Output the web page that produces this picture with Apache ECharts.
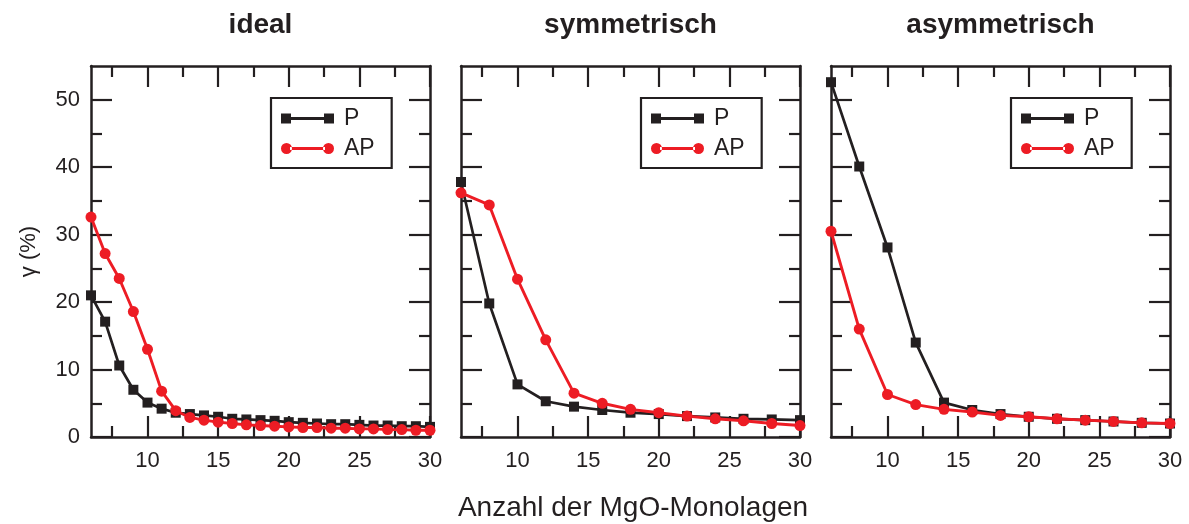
<!DOCTYPE html>
<html>
<head>
<meta charset="utf-8">
<title>γ vs. Anzahl der MgO-Monolagen</title>
<script src="https://cdn.jsdelivr.net/npm/echarts@6/dist/echarts.min.js"></script>
<style>
  html, body { margin: 0; padding: 0; background: #ffffff; }
  #chart { width: 1189px; height: 524px; }
</style>
</head>
<body>
<div id="chart"></div>
<script>
// Number of MgO monolayers
const layersAll = [6, 7, 8, 9, 10, 11, 12, 13, 14, 15, 16, 17, 18, 19, 20, 21, 22, 23, 24, 25, 26, 27, 28, 29, 30];
const layersEven = [6, 8, 10, 12, 14, 16, 18, 20, 22, 24, 26, 28, 30];

// gamma (%) – ideal interface
const idealP  = [21.0, 17.1, 10.6, 7.0, 5.1, 4.2, 3.6, 3.4, 3.2, 3.0, 2.7, 2.6, 2.5, 2.4, 2.2, 2.1, 2.0, 1.9, 1.9, 1.8, 1.7, 1.7, 1.6, 1.6, 1.5];
const idealAP = [32.6, 27.2, 23.5, 18.6, 13.0, 6.8, 3.9, 2.9, 2.5, 2.2, 2.0, 1.8, 1.7, 1.6, 1.5, 1.4, 1.4, 1.3, 1.3, 1.2, 1.2, 1.1, 1.1, 1.0, 1.0];

// gamma (%) – symmetric interfaces
const symP  = [37.8, 19.8, 7.8, 5.3, 4.5, 4.0, 3.6, 3.4, 3.1, 2.9, 2.7, 2.6, 2.5];
const symAP = [36.2, 34.4, 23.4, 14.4, 6.5, 5.0, 4.1, 3.6, 3.1, 2.7, 2.4, 2.0, 1.7];

// gamma (%) – asymmetric interfaces
const asymP  = [52.6, 40.1, 28.1, 14.0, 5.1, 4.0, 3.4, 3.0, 2.7, 2.5, 2.3, 2.1, 2.0];
const asymAP = [30.5, 16.0, 6.3, 4.8, 4.1, 3.7, 3.2, 3.0, 2.7, 2.5, 2.3, 2.1, 2.0];

// Panel titles and axis ticks
const panelTitles = ['ideal', 'symmetrisch', 'asymmetrisch'];
const xMajorTicks = [10, 15, 20, 25, 30];
const xMinorTicks = [7.5, 12.5, 17.5, 22.5, 27.5];
const yMajorTicks = [0, 10, 20, 30, 40, 50];
const yMinorTicks = [5, 15, 25, 35, 45];
const seriesNames = ['P', 'AP'];

const INK = '#231f20';
const RED = '#ed1c24';
const FONT = '"Liberation Sans", Arial, Helvetica, sans-serif';

const panels = [
  { x: layersAll,  p: idealP, ap: idealAP },
  { x: layersEven, p: symP,   ap: symAP },
  { x: layersEven, p: asymP,  ap: asymAP }
];

const gridLeft = [91, 461, 831];
const gridTop = 66, gridW = 339, gridH = 371;

function pairs(xs, ys) { return xs.map((v, i) => [v, ys[i]]); }

function xAxisDef(gi, pos, ticks, len, withLine, withLabel) {
  return {
    type: 'value', gridIndex: gi, position: pos, min: 6, max: 30,
    axisLine: { show: withLine, onZero: false, lineStyle: { color: INK, width: 2.5 } },
    axisTick: { show: true, inside: true, length: len, customValues: ticks, lineStyle: { color: INK, width: 2.2 } },
    axisLabel: { show: withLabel, customValues: xMajorTicks, margin: 13, fontSize: 22, color: INK, fontFamily: FONT },
    splitLine: { show: false }
  };
}

function yAxisDef(gi, pos, ticks, len, withLine, withLabel) {
  return {
    type: 'value', gridIndex: gi, position: pos, min: 0, max: 55,
    axisLine: { show: withLine, onZero: false, lineStyle: { color: INK, width: 2.5 } },
    axisTick: { show: true, inside: true, length: len, customValues: ticks, lineStyle: { color: INK, width: 2.2 } },
    axisLabel: { show: withLabel, customValues: yMajorTicks, margin: 11, fontSize: 22, color: INK, fontFamily: FONT },
    splitLine: { show: false }
  };
}

const grids = [], xAxes = [], yAxes = [], series = [], legends = [], texts = [];

// Legend glyphs: marker – line – marker
const iconP  = 'path://M0,0.5h10v10h-10z M9,4.1h35v2.8h-35z M43,0.5h10v10h-10z';
const iconAP = 'path://M0,5.5a5.5,5.5 0 1,0 11,0a5.5,5.5 0 1,0 -11,0z M9,4.1h35v2.8h-35z M42,5.5a5.5,5.5 0 1,0 11,0a5.5,5.5 0 1,0 -11,0z';

panels.forEach((pd, gi) => {
  grids.push({ left: gridLeft[gi], top: gridTop, width: gridW, height: gridH, containLabel: false });

  const xb = xAxes.length;
  xAxes.push(xAxisDef(gi, 'bottom', xMajorTicks, 21, true, true));
  xAxes.push(xAxisDef(gi, 'bottom', xMinorTicks, 11, false, false));
  xAxes.push(xAxisDef(gi, 'top', xMajorTicks, 21, true, false));
  xAxes.push(xAxisDef(gi, 'top', xMinorTicks, 11, false, false));

  const yb = yAxes.length;
  const left = yAxisDef(gi, 'left', yMajorTicks, 21, true, gi === 0);
  if (gi === 0) {
    left.name = 'γ (%)';
    left.nameLocation = 'middle';
    left.nameGap = 51;
    left.nameTextStyle = { fontSize: 22, color: INK, fontFamily: FONT };
  }
  yAxes.push(left);
  yAxes.push(yAxisDef(gi, 'left', yMinorTicks, 11, false, false));
  yAxes.push(yAxisDef(gi, 'right', yMajorTicks, 21, true, false));
  yAxes.push(yAxisDef(gi, 'right', yMinorTicks, 11, false, false));

  series.push({
    name: 'P', type: 'line', xAxisIndex: xb, yAxisIndex: yb, clip: false,
    data: pairs(pd.x, pd.p),
    symbol: 'rect', symbolSize: 10,
    itemStyle: { color: INK, borderWidth: 0 },
    lineStyle: { color: INK, width: 2.7 },
    z: 3
  });
  series.push({
    name: 'AP', type: 'line', xAxisIndex: xb, yAxisIndex: yb, clip: false,
    data: pairs(pd.x, pd.ap),
    symbol: 'circle', symbolSize: 11,
    itemStyle: { color: RED, borderWidth: 0 },
    lineStyle: { color: RED, width: 2.9 },
    z: 4
  });

  legends.push({
    orient: 'vertical',
    left: gridLeft[gi] + 180, top: 98,
    padding: [9, 17, 8, 10],
    itemGap: 7,
    itemWidth: 53, itemHeight: 11,
    borderColor: INK, borderWidth: 2.2, backgroundColor: '#ffffff',
    itemStyle: { borderWidth: 0 },
    textStyle: { fontSize: 23, lineHeight: 23, color: INK, fontFamily: FONT, padding: [0, 0, 0, 5] },
    data: [
      { name: seriesNames[0], icon: iconP },
      { name: seriesNames[1], icon: iconAP }
    ],
    selectedMode: false
  });

  texts.push({
    type: 'text', x: gridLeft[gi] + gridW / 2, y: 25,
    style: {
      text: panelTitles[gi], fill: INK,
      font: 'bold 28px ' + FONT,
      align: 'center', verticalAlign: 'middle',
      textAlign: 'center', textVerticalAlign: 'middle'
    }
  });
});

texts.push({
  type: 'text', x: 633, y: 508,
  style: {
    text: 'Anzahl der MgO-Monolagen', fill: INK,
    font: '28px ' + FONT,
    align: 'center', verticalAlign: 'middle',
    textAlign: 'center', textVerticalAlign: 'middle'
  }
});

const chart = echarts.init(document.getElementById('chart'), null, { renderer: 'canvas' });
chart.setOption({
  animation: false,
  backgroundColor: '#ffffff',
  textStyle: { fontFamily: FONT },
  grid: grids,
  xAxis: xAxes,
  yAxis: yAxes,
  legend: legends,
  series: series,
  graphic: texts
});
</script>
</body>
</html>
